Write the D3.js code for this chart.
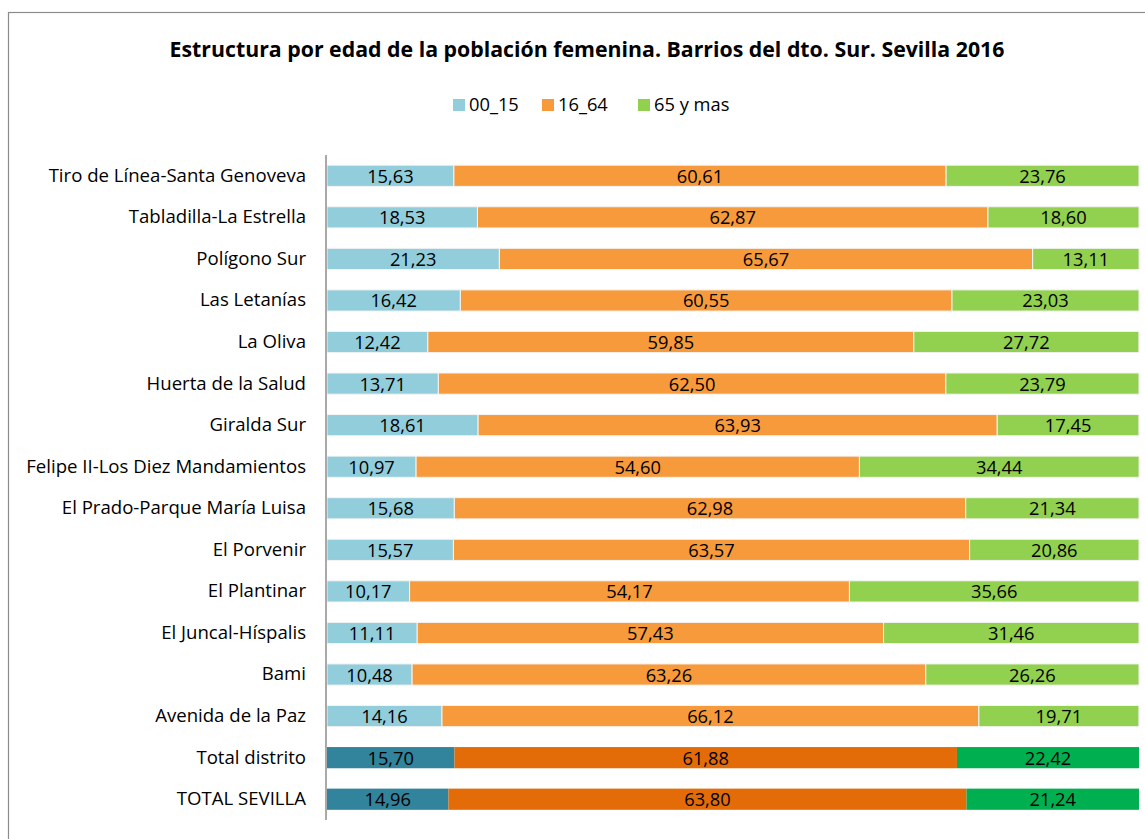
<!DOCTYPE html>
<html>
<head>
<meta charset="utf-8">
<script src="https://cdn.jsdelivr.net/npm/d3@7"></script>
<style>
  body { margin: 0; background: #fff; }
  svg { font-family: "Open Sans", sans-serif; }
</style>
</head>
<body>
<div id="chart"></div>
<script>
// Barrios, top to bottom
const barrios = [
  "Tiro de Línea-Santa Genoveva", "Tabladilla-La Estrella", "Polígono Sur", "Las Letanías",
  "La Oliva", "Huerta de la Salud", "Giralda Sur", "Felipe II-Los Diez Mandamientos",
  "El Prado-Parque María Luisa", "El Porvenir", "El Plantinar", "El Juncal-Híspalis",
  "Bami", "Avenida de la Paz", "Total distrito ", "TOTAL SEVILLA"
];
const grupos = ["00_15", "16_64", "65 y mas"];
const v00_15 = [15.63, 18.53, 21.23, 16.42, 12.42, 13.71, 18.61, 10.97, 15.68, 15.57, 10.17, 11.11, 10.48, 14.16, 15.70, 14.96];
const v16_64 = [60.61, 62.87, 65.67, 60.55, 59.85, 62.50, 63.93, 54.60, 62.98, 63.57, 54.17, 57.43, 63.26, 66.12, 61.88, 63.80];
const v65 = [23.76, 18.60, 13.11, 23.03, 27.72, 23.79, 17.45, 34.44, 21.34, 20.86, 35.66, 31.46, 26.26, 19.71, 22.42, 21.24];
const totales = ["Total distrito ", "TOTAL SEVILLA"];

const colors = ["#92CDDC", "#F79A3B", "#92D050"];
const darkColors = ["#31849B", "#E36C09", "#00B050"];

const width = 1145, height = 839;
const svg = d3.select("#chart").append("svg")
  .attr("width", width).attr("height", height);

// outer border of the chart area
svg.append("rect")
  .attr("x", 8.5).attr("y", 12.5)
  .attr("width", 1160).attr("height", 860)
  .attr("fill", "none").attr("stroke", "#8c8c8c").attr("stroke-width", 1.2);

svg.append("text")
  .attr("x", 587).attr("y", 57)
  .attr("text-anchor", "middle")
  .attr("font-weight", "bold").attr("font-size", 21.3)
  .text("Estructura por edad de la población femenina. Barrios del dto. Sur. Sevilla 2016");

// legend
const legendX = [453, 542, 638];
const legend = svg.append("g");
grupos.forEach((g, i) => {
  legend.append("rect")
    .attr("x", legendX[i]).attr("y", 99)
    .attr("width", 12).attr("height", 12)
    .attr("fill", colors[i]);
  legend.append("text")
    .attr("x", legendX[i] + 16).attr("y", 111)
    .attr("font-size", 18.3)
    .text(g);
});

const x = d3.scaleLinear().domain([0, 100]).range([327, 1139]);
const y = d3.scaleBand().domain(barrios).range([155, 820]).paddingInner(0.49).paddingOuter(0.245);

const rows = barrios.map((b, i) => ({ barrio: b, "00_15": v00_15[i], "16_64": v16_64[i], "65 y mas": v65[i] }));
const stack = d3.stack().keys(grupos)(rows);

stack.forEach((layer, k) => {
  const g = svg.append("g");
  g.selectAll("rect").data(layer).enter().append("rect")
    .attr("x", d => x(d[0]))
    .attr("y", d => y(d.data.barrio))
    .attr("width", d => x(d[1]) - x(d[0]))
    .attr("height", y.bandwidth())
    .attr("fill", d => totales.includes(d.data.barrio) ? darkColors[k] : colors[k])
    .attr("stroke", d => totales.includes(d.data.barrio) ? "none" : "#f4f4f4")
    .attr("stroke-width", 1);
  g.selectAll("text").data(layer).enter().append("text")
    .attr("x", d => (x(d[0]) + x(d[1])) / 2)
    .attr("y", d => y(d.data.barrio) + y.bandwidth() / 2 + 7)
    .attr("text-anchor", "middle")
    .attr("font-size", 18.3)
    .attr("fill", "#000")
    .text(d => d3.format(".2f")(d[1] - d[0]).replace(".", ","));
});

// category axis
const yAxis = svg.append("g")
  .attr("transform", "translate(326,0)")
  .call(d3.axisLeft(y).tickSize(0).tickPadding(20));
yAxis.select(".domain").attr("stroke", "#8c8c8c").attr("stroke-width", 1.5)
  .attr("d", "M0,155V820");
yAxis.selectAll("text").attr("font-size", 18.6).attr("fill", "#000")
  .attr("font-family", "'Open Sans', sans-serif");
</script>
</body>
</html>
